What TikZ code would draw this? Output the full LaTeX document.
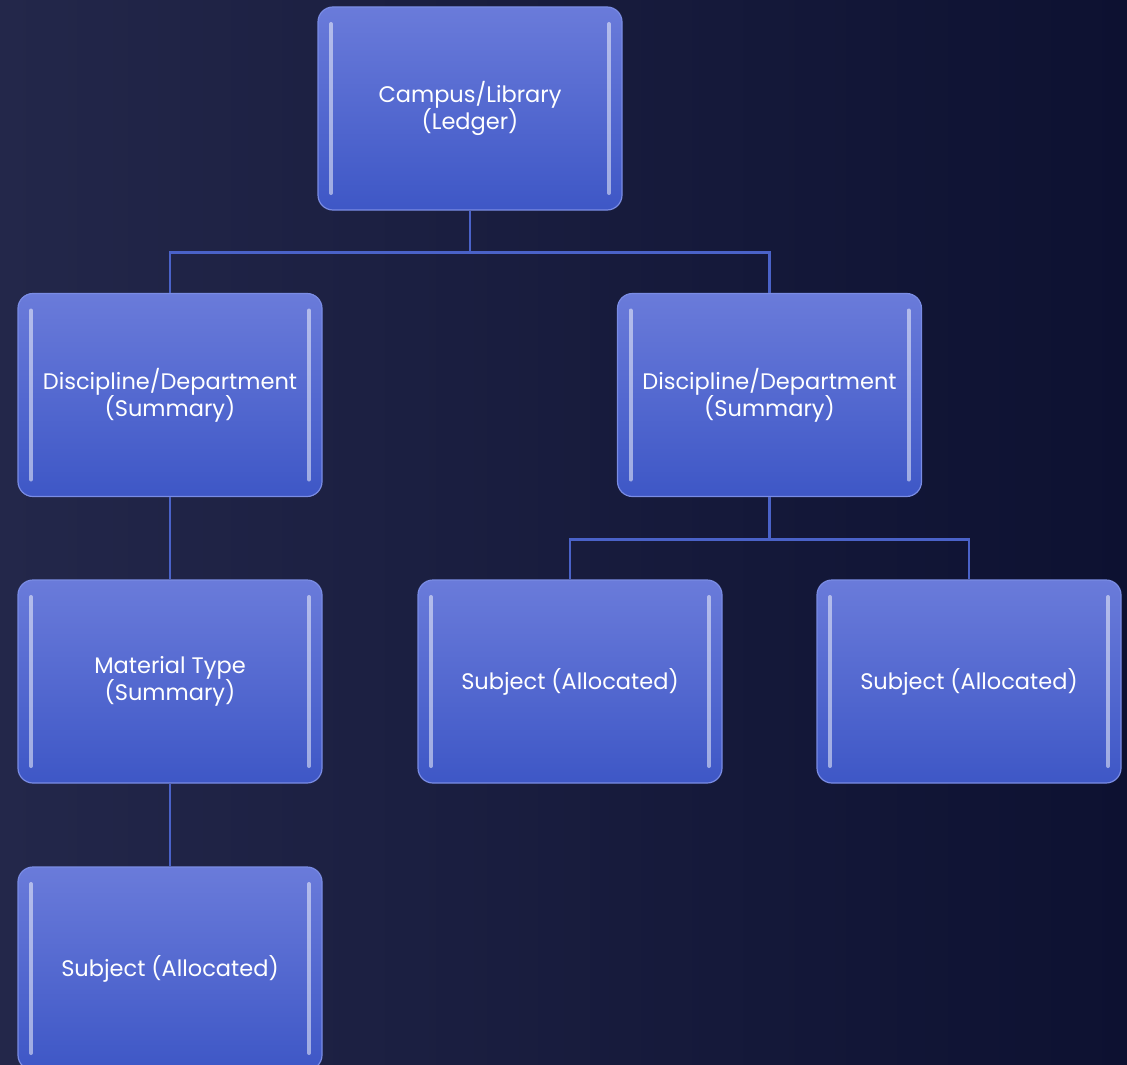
\documentclass[tikz,border=0pt]{standalone}
\usepackage{fontspec}
\setmainfont{Poppins}
\definecolor{bgleft}{HTML}{23274A}
\definecolor{bgright}{HTML}{0D1131}
\definecolor{boxtop}{HTML}{6A7BDA}
\definecolor{boxbot}{HTML}{3E57C6}
\definecolor{boxedge}{HTML}{7A8CE4}
\definecolor{linkblue}{HTML}{4A62C8}
\begin{document}
\begin{tikzpicture}[x=1pt,y=-1pt,
  orgbox/.style={rounded corners=15pt, minimum width=304pt, minimum height=203pt,
    top color=boxtop, bottom color=boxbot, draw=boxedge, line width=1.2pt,
    text=white, align=center, font=\fontsize{22.5}{27}\selectfont, inner sep=2pt,
    path picture={
      \draw[white, opacity=0.5, line width=4pt, line cap=round]
        ([xshift=13pt,yshift=-17pt]path picture bounding box.north west) --
        ([xshift=13pt,yshift=17pt]path picture bounding box.south west);
      \draw[white, opacity=0.5, line width=4pt, line cap=round]
        ([xshift=-13pt,yshift=-17pt]path picture bounding box.north east) --
        ([xshift=-13pt,yshift=17pt]path picture bounding box.south east);
    }},
  link/.style={draw=linkblue, line width=2.8pt}]
  % background
  \shade[left color=bgleft, right color=bgright] (0,0) rectangle (1127,1065);
  \useasboundingbox (0,0) rectangle (1127,1065);

  % boxes
  \node[orgbox] (top) at (470,108.5) {Campus/Library\\(Ledger)};
  \node[orgbox] (dl)  at (170,395)   {Discipline/Department\\(Summary)};
  \node[orgbox] (dr)  at (769.5,395) {Discipline/Department\\(Summary)};
  \node[orgbox] (mt)  at (170,681.5) {Material Type\\(Summary)};
  \node[orgbox] (sm)  at (570,681.5) {Subject (Allocated)};
  \node[orgbox] (sr)  at (969,681.5) {Subject (Allocated)};
  \node[orgbox] (sl)  at (170,968.5) {Subject (Allocated)};

  % connectors
  \draw[link] (top.south) -- ++(0,42) -| (dl.north);
  \draw[link] (top.south) -- ++(0,42) -| (dr.north);
  \draw[link] (dr.south) -- ++(0,42) -| (sm.north);
  \draw[link] (dr.south) -- ++(0,42) -| (sr.north);
  \draw[link] (dl.south) -- (mt.north);
  \draw[link] (mt.south) -- (sl.north);
\end{tikzpicture}
\end{document}
